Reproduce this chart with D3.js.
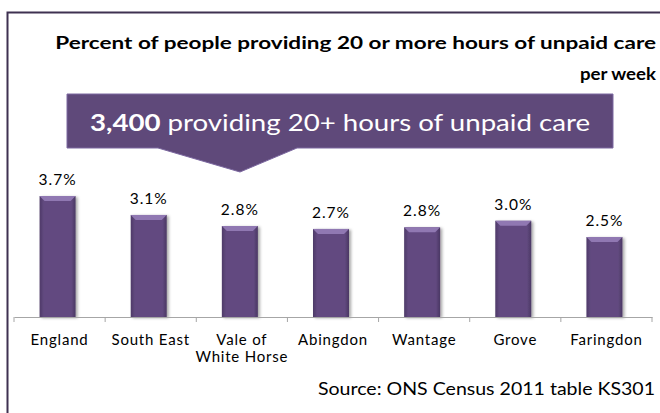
<!DOCTYPE html>
<html>
<head>
<meta charset="utf-8">
<script src="https://cdn.jsdelivr.net/npm/d3@7"></script>
<style>
  body { margin: 0; background: #fff; }
  svg { display: block; font-family: Lato, "Open Sans", sans-serif; }
</style>
</head>
<body>
<svg id="chart" width="660" height="413"></svg>
<script>
// dados do gráfico
var categories = ["England", "South East", "Vale of|White Horse", "Abingdon", "Wantage", "Grove", "Faringdon"];
var values = [3.72, 3.14, 2.80, 2.71, 2.76, 2.96, 2.46];
var titleLines = ["Percent of people providing 20 or more hours of unpaid care", "per week"];
var calloutBold = "3,400";
var calloutRest = " providing 20+ hours of unpaid care";
var sourceText = "Source: ONS Census 2011 table KS301";

var svg = d3.select("#chart");
var fmt = d3.format(".1f");

// gradientes e sombra
var defs = svg.append("defs");
var grad = defs.append("linearGradient").attr("id", "barGrad").attr("x1", 0).attr("x2", 1).attr("y1", 0).attr("y2", 0);
grad.append("stop").attr("offset", "0%").attr("stop-color", "#4e3a68");
grad.append("stop").attr("offset", "12%").attr("stop-color", "#624a80");
grad.append("stop").attr("offset", "88%").attr("stop-color", "#624a80");
grad.append("stop").attr("offset", "100%").attr("stop-color", "#4a3763");
var shadow = defs.append("filter").attr("id", "shadow").attr("x", "-30%").attr("y", "-10%").attr("width", "160%").attr("height", "120%");
shadow.append("feDropShadow").attr("dx", 2).attr("dy", 1).attr("stdDeviation", 1.5).attr("flood-color", "#000").attr("flood-opacity", 0.35);

// moldura (só topo e esquerda visíveis)
svg.append("path")
  .attr("d", "M7.5,413 V12.5 H660")
  .attr("fill", "none")
  .attr("stroke", "#3f3151")
  .attr("stroke-width", 2);

// título - cada linha esticada até a largura do original
var titleWidths = [601, 76];
var titles = svg.append("g").selectAll("text")
  .data(titleLines)
  .enter()
  .append("text")
  .attr("text-anchor", "end")
  .attr("font-weight", "bold")
  .attr("font-size", 16.5)
  .attr("fill", "#000")
  .text(function (d) { return d; });
titles.attr("transform", function (d, i) {
  var s = titleWidths[i] / this.getComputedTextLength();
  return "translate(656," + (49 + i * 31) + ") scale(" + s + ",1)";
});

// escalas
var x = d3.scaleBand().domain(categories).range([14, 652]);
var y = d3.scaleLinear().domain([0, 4]).range([317, 187]);
var barW = 36;

// barras
var bars = svg.append("g").selectAll("g")
  .data(values)
  .enter()
  .append("g");

bars.append("rect")
  .attr("x", function (d, i) { return x(categories[i]) + x.bandwidth() / 2 - barW / 2 - 2; })
  .attr("y", function (d) { return y(d); })
  .attr("width", barW)
  .attr("height", function (d) { return y(0) - y(d); })
  .attr("fill", "url(#barGrad)")
  .attr("filter", "url(#shadow)");

// chanfro claro no topo
bars.append("path")
  .attr("d", function (d, i) {
    var x0 = x(categories[i]) + x.bandwidth() / 2 - barW / 2 - 2, y0 = y(d);
    return "M" + x0 + "," + y0 + " H" + (x0 + barW) + " L" + (x0 + barW - 5) + "," + (y0 + 5) + " H" + (x0 + 5) + " Z";
  })
  .attr("fill", "#9078b2");

// rótulos de valor
svg.append("g").selectAll("text")
  .data(values)
  .enter()
  .append("text")
  .attr("x", function (d, i) { return x(categories[i]) + x.bandwidth() / 2 - 2; })
  .attr("y", function (d) { return y(d) - 11; })
  .attr("text-anchor", "middle")
  .attr("font-size", 15.5)
  .attr("letter-spacing", 1)
  .attr("fill", "#000")
  .text(function (d) { return fmt(d) + "%"; });

// eixo x
var axis = svg.append("g")
  .attr("transform", "translate(0,317)")
  .call(d3.axisBottom(x).tickSize(0).tickFormat(""));
axis.select(".domain").attr("stroke", "#a6a6a6").attr("stroke-width", 1.2);
axis.selectAll(".boundary")
  .data(d3.range(categories.length + 1))
  .enter()
  .append("line")
  .attr("class", "boundary")
  .attr("x1", function (d) { return 14 + d * x.step(); })
  .attr("x2", function (d) { return 14 + d * x.step(); })
  .attr("y1", 0)
  .attr("y2", 5)
  .attr("stroke", "#a6a6a6");

// rótulos das categorias
var catLabels = svg.append("g").selectAll("text")
  .data(categories)
  .enter()
  .append("text")
  .attr("x", function (d) { return x(d) + x.bandwidth() / 2; })
  .attr("y", 345)
  .attr("text-anchor", "middle")
  .attr("font-size", 15)
  .attr("letter-spacing", 0.8)
  .attr("fill", "#000");
catLabels.selectAll("tspan")
  .data(function (d) { return d.split("|"); })
  .enter()
  .append("tspan")
  .attr("x", function () { var p = d3.select(this.parentNode).datum(); return x(p) + x.bandwidth() / 2; })
  .attr("dy", function (d, i) { return i === 0 ? 0 : 17; })
  .text(function (d) { return d; });

// caixa de destaque com seta
svg.append("path")
  .attr("d", "M67,94 H613 V148 H297 L240,172 L158,148 H67 Z")
  .attr("fill", "#5f497a")
  .attr("stroke", "#7c68a0")
  .attr("stroke-width", 1);

var callout = svg.append("text")
  .attr("x", 90)
  .attr("y", 131)
  .attr("font-size", 23)
  .attr("fill", "#fff")
  .attr("textLength", 500)
  .attr("lengthAdjust", "spacingAndGlyphs");
callout.append("tspan").attr("font-weight", "bold").text(calloutBold);
callout.append("tspan").text(calloutRest);

// fonte
svg.append("text")
  .attr("x", 655)
  .attr("y", 395)
  .attr("text-anchor", "end")
  .attr("font-size", 17)
  .attr("fill", "#000")
  .attr("textLength", 337)
  .attr("lengthAdjust", "spacingAndGlyphs")
  .text(sourceText);
</script>
</body>
</html>
